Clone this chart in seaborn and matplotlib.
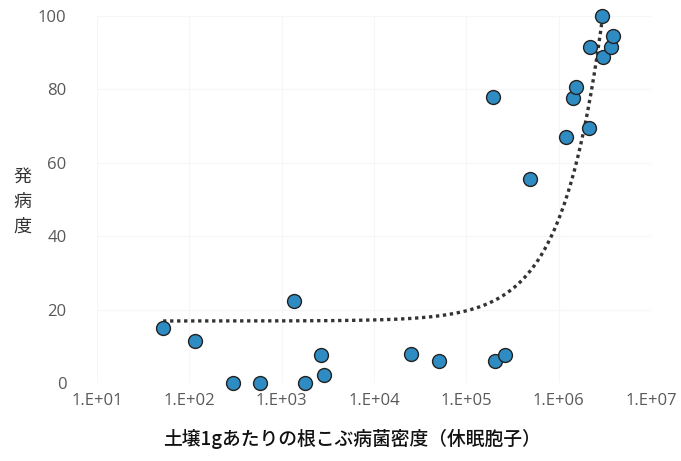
import numpy as np
import pandas as pd
import matplotlib
matplotlib.use("Agg")
import matplotlib.pyplot as plt
import seaborn as sns

# ---- data ----
spore_density = [52, 115, 296, 581, 1355, 1782, 2656, 2864,
                 25000, 50200, 193000, 203000, 260000, 485000,
                 1.19e6, 1.42e6, 1.53e6, 2.11e6, 2.16e6, 2.92e6, 2.99e6, 3.65e6, 3.84e6]
disease_index = [15, 11.4, 0, 0, 22.4, 0, 7.6, 2.2,
                 7.9, 6, 77.8, 6, 7.6, 55.6,
                 67, 77.7, 80.6, 69.6, 91.6, 100, 88.7, 91.6, 94.6]

# linear trendline (as drawn in the reference)
trend_intercept = 16.9
trend_slope = 2.77e-5
trend_x_range = [52, 2.92e6]

x_ticks = [1e1, 1e2, 1e3, 1e4, 1e5, 1e6, 1e7]
x_tick_labels = ["1.E+01", "1.E+02", "1.E+03", "1.E+04", "1.E+05", "1.E+06", "1.E+07"]
y_ticks = [0, 20, 40, 60, 80, 100]

x_label = "土壌1gあたりの根こぶ病菌密度（休眠胞子）"
y_label = "発\n病\n度"

df = pd.DataFrame({"density": spore_density, "index": disease_index})

sns.set_style("white")
plt.rcParams["font.family"] = ["Open Sans", "Noto Sans CJK JP", "DejaVu Sans"]

fig = plt.figure(figsize=(6.81, 4.61), dpi=100)
ax = fig.add_axes([0.1424, 0.1692, 0.8135, 0.7961])

# trendline
tx = np.logspace(np.log10(trend_x_range[0]), np.log10(trend_x_range[1]), 400)
ty = trend_intercept + trend_slope * tx
ax.plot(tx, ty, linestyle=(0, (1, 1.1)), color="#333333", linewidth=2.4, zorder=2)

sns.scatterplot(data=df, x="density", y="index", ax=ax, s=100,
                color="#2f8cc3", edgecolor="#222222", linewidth=1.0, zorder=3,
                clip_on=False)

ax.set_xscale("log")
ax.set_xlim(1e1, 1e7)
ax.set_ylim(0, 100)
ax.set_xticks(x_ticks)
ax.set_xticklabels(x_tick_labels)
ax.minorticks_off()
ax.set_yticks(y_ticks)
ax.tick_params(axis="both", length=0, labelsize=12, labelcolor="#595959")
ax.tick_params(axis="x", pad=7)
ax.tick_params(axis="y", pad=22)
ax.set_xlabel("")
ax.set_ylabel("")
for sp in ax.spines.values():
    sp.set_visible(False)
ax.grid(True, color="#f6f6f6", linewidth=0.8)
ax.set_axisbelow(True)

fig.text(0.517, 0.026, x_label, ha="center", va="bottom", fontsize=13.5,
         color="#111111", fontweight="medium", family=["Noto Sans CJK JP", "DejaVu Sans"])
fig.text(0.033, 0.562, y_label, ha="center", va="center", fontsize=13,
         color="#333333", linespacing=1.5, family=["Noto Sans CJK JP", "DejaVu Sans"])

fig.savefig("out.png", dpi=100)
